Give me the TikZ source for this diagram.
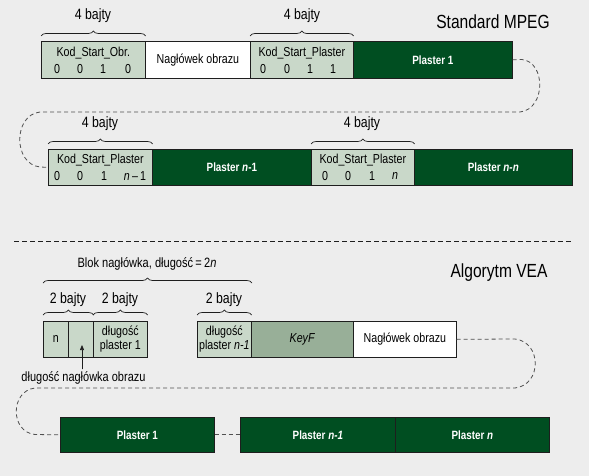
\documentclass[tikz,border=0pt]{standalone}
\usepackage{fontspec}
\setmainfont{Liberation Sans}[FakeStretch=0.82]
\usetikzlibrary{decorations.pathreplacing,calc,arrows.meta}
\definecolor{bgc}{HTML}{EDEDED}
\definecolor{dgreen}{HTML}{004E21}
\definecolor{lgreen}{HTML}{C9D8C9}
\definecolor{mgreen}{HTML}{98AF98}
\definecolor{edgec}{HTML}{1E1E1E}
\definecolor{dashc}{HTML}{505050}
\tikzset{
  cell/.style={draw=edgec, line width=0.7pt, inner sep=0pt, anchor=north west, align=center},
  lcell/.style={cell, fill=lgreen},
  wcell/.style={cell, fill=white},
  kcell/.style={cell, fill=mgreen},
  dcell/.style={cell, fill=dgreen, text=white, font=\fontsize{12}{13}\selectfont\bfseries},
  boxtxt/.style={font=\fontsize{13}{14}\selectfont, inner sep=0pt},
  bytelbl/.style={font=\fontsize{15}{16}\selectfont, inner sep=0pt},
  title/.style={font=\fontsize{19}{21}\selectfont, inner sep=0pt},
  bracec/.style={decorate, decoration={brace, amplitude=5pt, raise=0pt}, line width=0.7pt, draw=edgec},
  conn/.style={draw=dashc, line width=0.8pt, dash pattern=on 4pt off 3pt},
}
\begin{document}
\begin{tikzpicture}[x=1pt,y=-1pt]
\useasboundingbox[fill=bgc] (0,0) rectangle (589,476);

% ---------- Standard MPEG ----------
\node[title] (t1) at (493,22) {Standard MPEG};

\node[lcell, minimum width=104, minimum height=37] (A1) at (41,41) {};
\node[wcell, minimum width=105, minimum height=37, boxtxt] (A2) at (145,41) {Nagłówek obrazu};
\node[lcell, minimum width=103, minimum height=37] (A3) at (250,41) {};
\node[dcell, minimum width=159, minimum height=37] (A4) at (353,41) {Plaster 1};

\node[boxtxt] (A1t) at ($(A1.north)+(0,12)$) {Kod\_Start\_Obr.};
\node[boxtxt] (A1a) at ($(A1.north west)+(16,28)$) {0};
\node[boxtxt] (A1b) at ($(A1.north west)+(39,28)$) {0};
\node[boxtxt] (A1c) at ($(A1.north west)+(62,28)$) {1};
\node[boxtxt] (A1d) at ($(A1.north west)+(87,28)$) {0};

\node[boxtxt] (A3t) at ($(A3.north)+(0,12)$) {Kod\_Start\_Plaster};
\node[boxtxt] (A3a) at ($(A3.north west)+(13,28)$) {0};
\node[boxtxt] (A3b) at ($(A3.north west)+(37,28)$) {0};
\node[boxtxt] (A3c) at ($(A3.north west)+(60,28)$) {1};
\node[boxtxt] (A3d) at ($(A3.north west)+(83,28)$) {1};

\draw[bracec] ($(A1.north west)+(0,-5)$) -- ($(A1.north east)+(0,-5)$);
\draw[bracec] ($(A3.north west)+(0,-5)$) -- ($(A3.north east)+(0,-5)$);
\node[bytelbl] (L1) at (93,16) {4 bajty};
\node[bytelbl] (L2) at (302,16) {4 bajty};

\node[lcell, minimum width=104, minimum height=36] (B1) at (48,149) {};
\node[dcell, minimum width=159, minimum height=36] (B2) at (152,149) {Plaster \textit{n}-1};
\node[lcell, minimum width=103, minimum height=36] (B3) at (311,149) {};
\node[dcell, minimum width=158, minimum height=36] (B4) at (414,149) {Plaster \textit{n-n}};

\node[boxtxt] (B1t) at ($(B1.north)+(0,11)$) {Kod\_Start\_Plaster};
\node[boxtxt] (B1a) at ($(B1.north west)+(9,27)$) {0};
\node[boxtxt] (B1b) at ($(B1.north west)+(32,27)$) {0};
\node[boxtxt] (B1c) at ($(B1.north west)+(56,27)$) {1};
\node[boxtxt] (B1d) at ($(B1.north west)+(87,27)$) {\textit{n}\,–\,1};

\node[boxtxt] (B3t) at ($(B3.north)+(0,11)$) {Kod\_Start\_Plaster};
\node[boxtxt] (B3a) at ($(B3.north west)+(14,27)$) {0};
\node[boxtxt] (B3b) at ($(B3.north west)+(37,27)$) {0};
\node[boxtxt] (B3c) at ($(B3.north west)+(61,27)$) {1};
\node[boxtxt] (B3d) at ($(B3.north west)+(84,27)$) {\textit{n}};

\draw[bracec] ($(B1.north west)+(0,-5)$) -- ($(B1.north east)+(0,-5)$);
\draw[bracec] ($(B3.north west)+(0,-5)$) -- ($(B3.north east)+(0,-5)$);
\node[bytelbl] (L3) at (100,124) {4 bajty};
\node[bytelbl] (L4) at (362,124) {4 bajty};

\draw[conn] (A4.east) -- (522,59.5) .. controls (546,62) and (546,109) .. (520,112)
  -- (40,112) .. controls (13,115) and (13,164) .. (40,167) -- (B1.west);

% separator
\coordinate (s1) at (14,241);
\coordinate (s2) at (573,241);
\draw[draw=edgec, line width=0.8pt, dash pattern=on 5pt off 3pt] (s1) -- (s2);

% ---------- Algorytm VEA ----------
\node[title] (t2) at (499,273) {Algorytm VEA};

\node[lcell, minimum width=25, minimum height=36, boxtxt] (C1) at (43,321) {n};
\node[lcell, minimum width=25, minimum height=36] (C2) at (68,321) {};
\node[lcell, minimum width=54, minimum height=36, boxtxt] (C3) at (93,321) {długość\\plaster 1};
\node[lcell, minimum width=54, minimum height=36, boxtxt] (C4) at (197,321) {długość\\plaster \textit{n-1}};
\node[kcell, minimum width=102, minimum height=36, boxtxt] (C5) at (251,321) {\textit{KeyF}};
\node[wcell, minimum width=103, minimum height=36, boxtxt] (C6) at (353,321) {Nagłówek obrazu};

\draw[bracec] ($(C1.north west)+(0,-6)$) -- ($(C2.north east)+(0,-6)$);
\draw[bracec] ($(C3.north west)+(0,-6)$) -- ($(C3.north east)+(0,-6)$);
\draw[bracec] ($(C4.north west)+(0,-6)$) -- ($(C4.north east)+(0,-6)$);
\node[bytelbl] (L5) at (68,300) {2 bajty};
\node[bytelbl] (L6) at (120,300) {2 bajty};
\node[bytelbl] (L7) at (224,300) {2 bajty};

\coordinate (bl) at (43,283);
\coordinate (br) at (252,283);
\draw[bracec] (bl) -- (br);
\node[boxtxt, font=\fontsize{13.5}{15}\selectfont] (L8) at (147,264) {Blok nagłówka, długość\,=\,2\textit{n}};

\node[boxtxt, font=\fontsize{13.4}{15}\selectfont] (hl) at (83.5,378) {długość nagłówka obrazu};
\coordinate (tip) at (82,345);
\draw[-{Triangle[length=5pt,width=4pt]}, line width=0.7pt, draw=edgec, fill=edgec] ($(hl.north)+(-1.5,-2)$) -- (tip);

\node[dcell, minimum width=154, minimum height=35] (D1) at (60,417) {Plaster 1};
\node[dcell, minimum width=155, minimum height=35] (D2) at (240,417) {Plaster \textit{n-1}};
\node[dcell, minimum width=154, minimum height=35] (D3) at (395,417) {Plaster \textit{n}};

\draw[conn] (C6.east) -- (515,339) .. controls (542,342) and (542,385) .. (515,388)
  -- (35,388) .. controls (10,391) and (10,432) .. (35,434.5) -- (D1.west);
\draw[conn] (D1.east) -- (D2.west);
\end{tikzpicture}
\end{document}
